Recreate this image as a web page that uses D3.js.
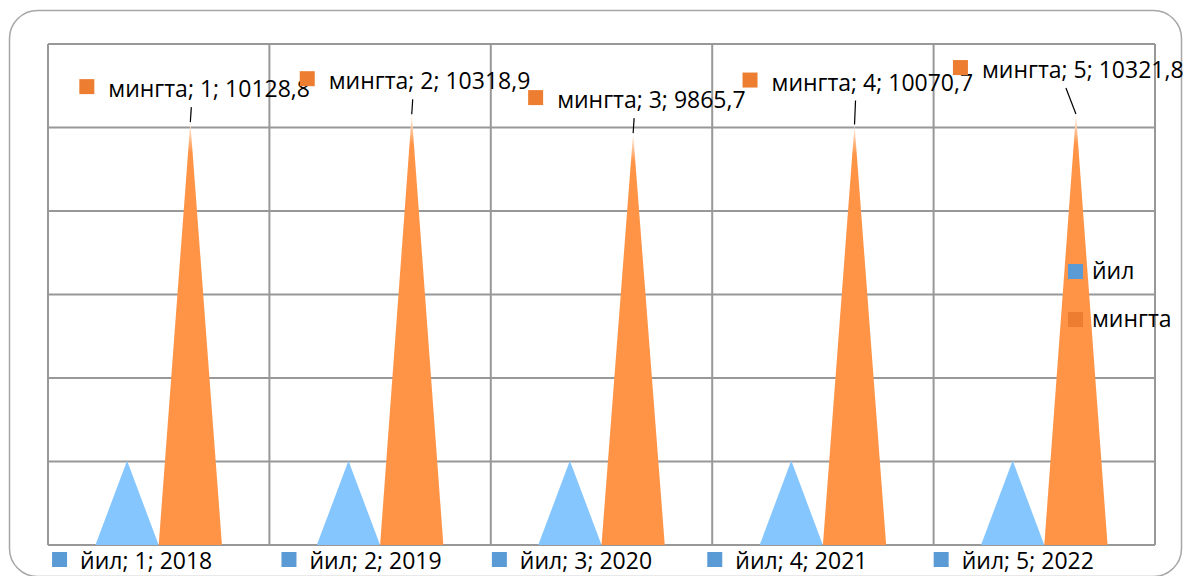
<!DOCTYPE html>
<html>
<head>
<meta charset="utf-8">
<script src="https://cdn.jsdelivr.net/npm/d3@7"></script>
<style>
    body { margin: 0; background: #ffffff; }
    #container { width: 1184px; height: 576px; }
    text { font-family: "Open Sans", sans-serif; font-size: 23px; fill: #000; }
</style>
</head>
<body>
<div id="container"></div>
<script>
    // Chart data
    const categories = ["1", "2", "3", "4", "5"];
    const seriesNames = ["йил", "мингта"];
    const yearValues = [2018, 2019, 2020, 2021, 2022];
    const countValues = [10128.8, 10318.9, 9865.7, 10070.7, 10321.8];
    const yTicks = [0, 2000, 4000, 6000, 8000, 10000, 12000];

    // Manual placement of the data labels (moved by hand in the original)
    const countLabelDx = [-111, -112, -105, -112, -123];
    const countLabelDy = [-43, -43, -43, -52, -54];
    const countLeaderDx = [1, 1, 1, 1, -10];
    const yearLabelDx = [-75, -67, -78, -84, -79];

    const width = 1184, height = 576;
    const plot = { left: 48, right: 1155, top: 44, bottom: 545 };

    const barColor = { "йил": "#85c6ff", "мингта": "#ff9447" };
    const markColor = { "йил": "#5b9bd5", "мингта": "#ed7d31" };

    const svg = d3.select("#container")
                    .append("svg")
                    .attr("width", width)
                    .attr("height", height);

    // Gradient that pales the tip of the orange cones
    const grad = svg.append("defs").append("linearGradient")
                    .attr("id", "tipFade")
                    .attr("x1", 0).attr("y1", 0)
                    .attr("x2", 0).attr("y2", 1);
    grad.append("stop").attr("offset", 0).attr("stop-color", "#fff4ec");
    grad.append("stop").attr("offset", 0.07).attr("stop-color", barColor["мингта"]);
    grad.append("stop").attr("offset", 1).attr("stop-color", barColor["мингта"]);

    // Rounded frame around the chart
    svg.append("rect")
        .attr("x", 9.5).attr("y", 10.5)
        .attr("width", 1172).attr("height", 566)
        .attr("rx", 28)
        .attr("fill", "none")
        .attr("stroke", "#a6a6a6")
        .attr("stroke-width", 1.5);

    // Scales
    var x = d3.scaleBand()
                .domain(categories)
                .range([plot.left, plot.right])
                .padding(0);
    var xs = d3.scaleBand()
                .domain(seriesNames)
                .range([0, x.bandwidth()])
                .paddingInner(0)
                .paddingOuter(0.75);
    var y = d3.scaleLinear()
                .domain([0, 12000])
                .range([plot.bottom, plot.top]);

    // Horizontal grid lines
    svg.append("g")
        .selectAll("line")
        .data(yTicks)
        .enter()
        .append("line")
        .attr("x1", plot.left).attr("x2", plot.right)
        .attr("y1", d => y(d)).attr("y2", d => y(d))
        .attr("stroke", "#989898")
        .attr("stroke-width", 2);

    // Vertical lines between categories
    const edges = categories.map(c => x(c)).concat([plot.right]);
    svg.append("g")
        .selectAll("line")
        .data(edges)
        .enter()
        .append("line")
        .attr("x1", d => d).attr("x2", d => d)
        .attr("y1", plot.top).attr("y2", plot.bottom)
        .attr("stroke", "#989898")
        .attr("stroke-width", 2);

    // Triangle path for a bar
    function tri(cat, name, v) {
        const x0 = x(cat) + xs(name);
        const w = xs.bandwidth();
        return "M" + x0 + "," + y(0) + "L" + (x0 + w / 2) + "," + y(v) + "L" + (x0 + w) + "," + y(0) + "Z";
    }

    const yearData = categories.map((c, i) => ({ cat: c, v: yearValues[i], i: i }));
    const countData = categories.map((c, i) => ({ cat: c, v: countValues[i], i: i }));

    svg.append("g")
        .selectAll("path")
        .data(yearData)
        .enter()
        .append("path")
        .attr("d", d => tri(d.cat, "йил", d.v))
        .attr("fill", barColor["йил"]);

    svg.append("g")
        .selectAll("path")
        .data(countData)
        .enter()
        .append("path")
        .attr("d", d => tri(d.cat, "мингта", d.v))
        .attr("fill", "url(#tipFade)");

    const fmt = v => d3.format(".1f")(v).replace(".", ",");
    const centre = (cat, name) => x(cat) + xs(name) + xs.bandwidth() / 2;

    // Data labels of the orange series, with leader lines
    const cl = svg.append("g");
    countData.forEach(function(d) {
        const cx = centre(d.cat, "мингта");
        const lx = cx + countLabelDx[d.i];
        const ly = y(d.v) + countLabelDy[d.i];
        cl.append("line")
            .attr("x1", cx).attr("y1", y(d.v))
            .attr("x2", cx + countLeaderDx[d.i]).attr("y2", ly + 28)
            .attr("stroke", "#000")
            .attr("stroke-width", 1.2);
        cl.append("rect")
            .attr("x", lx).attr("y", ly)
            .attr("width", 15).attr("height", 15)
            .attr("fill", markColor["мингта"]);
        cl.append("text")
            .attr("x", lx + 29).attr("y", ly + 18)
            .text("мингта; " + d.cat + "; " + fmt(d.v));
    });

    // Data labels of the blue series, under the axis
    const yl = svg.append("g");
    yearData.forEach(function(d) {
        const lx = centre(d.cat, "йил") + yearLabelDx[d.i];
        yl.append("rect")
            .attr("x", lx).attr("y", 552)
            .attr("width", 15).attr("height", 15)
            .attr("fill", markColor["йил"]);
        yl.append("text")
            .attr("x", lx + 28).attr("y", 569)
            .text("йил; " + d.cat + "; " + d.v);
    });

    // Legend
    const legend = svg.append("g")
                    .selectAll("g")
                    .data(seriesNames)
                    .enter()
                    .append("g")
                    .attr("transform", (d, i) => "translate(1068," + (264 + i * 48) + ")");
    legend.append("rect")
        .attr("width", 15).attr("height", 15)
        .attr("fill", d => markColor[d]);
    legend.append("text")
        .attr("x", 24).attr("y", 15)
        .text(d => d);
</script>
</body>
</html>
